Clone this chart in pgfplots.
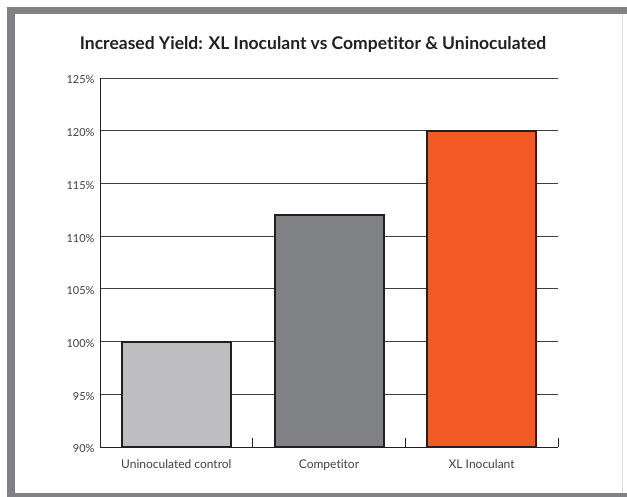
\documentclass[border=0pt]{standalone}
\usepackage{fontspec}
\setmainfont{Lato}[Ligatures=NoCommon]
\usepackage{pgfplots}
\pgfplotsset{compat=1.18}
\definecolor{framegray}{HTML}{808184}
\definecolor{lightbar}{HTML}{BEBEC0}
\definecolor{darkbar}{HTML}{808184}
\definecolor{orangebar}{HTML}{F15A22}
\definecolor{edge}{HTML}{231F20}
\definecolor{txt}{HTML}{414042}
\begin{document}
\begin{tikzpicture}
  % page and grey frame
  \useasboundingbox (0pt,0pt) rectangle (627pt,497pt);
  \fill[white] (0pt,0pt) rectangle (627pt,497pt);
  \fill[framegray] (7pt,0pt) rectangle (627pt,490pt);
  \fill[white] (15pt,4pt) rectangle (627pt,483pt);
  \draw[framegray!25, line width=1pt] (622.5pt,4pt) -- (622.5pt,483pt);
  \node[text=edge, font=\fontsize{17.5}{20}\selectfont\bfseries] at (313pt,453pt)
    {Increased Yield: XL Inoculant vs Competitor \& Uninoculated};
  \begin{axis}[
      at={(100pt,50pt)}, anchor=south west,
      scale only axis, width=458pt, height=369pt,
      xmin=-0.5, xmax=2.5, ymin=90, ymax=125,
      axis lines*=left,
      axis line style={edge, line width=0.9pt},
      ytick={90,95,...,125},
      yticklabel={\pgfmathprintnumber{\tick}\%},
      /pgf/number format/assume math mode=true,
      ymajorgrids, major grid style={black!75, line width=0.8pt},
      xtick={0,1,2},
      xticklabels={Uninoculated control, Competitor, XL Inoculant},
      minor xtick={0.5,1.5,2.5},
      major tick length=0pt, minor tick length=9pt,
      tick style={edge, line width=0.8pt},
      tick align=inside,
      ticklabel style={text=txt},
      xticklabel style={yshift=-9pt, font=\fontsize{12}{14}\selectfont},
      yticklabel style={xshift=-2pt, yshift=-2pt, font=\fontsize{11}{13}\selectfont},
      clip=true,
    ]
    \addplot[ybar, bar width=109pt, bar shift=0pt, fill=lightbar, draw=edge, line width=2pt]
      coordinates {(0,100)};
    \addplot[ybar, bar width=109pt, bar shift=0pt, fill=darkbar, draw=edge, line width=2pt]
      coordinates {(1,112)};
    \addplot[ybar, bar width=109pt, bar shift=0pt, fill=orangebar, draw=edge, line width=2pt]
      coordinates {(2,120)};
  \end{axis}
\end{tikzpicture}
\end{document}
